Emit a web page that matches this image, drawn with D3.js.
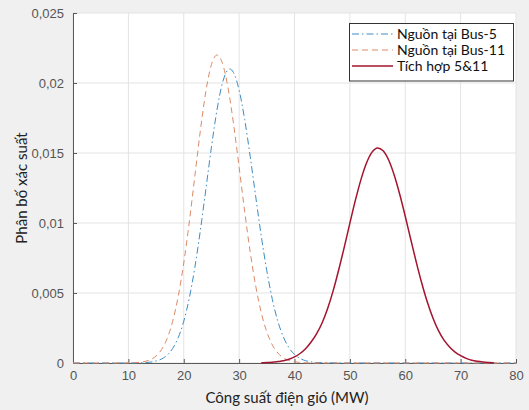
<!DOCTYPE html>
<html><head><meta charset="utf-8">
<script src="https://cdn.jsdelivr.net/npm/d3@7"></script>
<style>body{margin:0;background:#f0f0f0;} svg{display:block}</style>
</head><body><svg id="c" width="529" height="410"></svg>
<script>
// ---- data ----
const xTicks = [0, 10, 20, 30, 40, 50, 60, 70, 80];
const xTickLabels = ["0", "10", "20", "30", "40", "50", "60", "70", "80"];
const yTicks = [0, 0.005, 0.01, 0.015, 0.02, 0.025];
const yTickLabels = ["0", "0,005", "0,01", "0,015", "0,02", "0,025"];
const seriesNames = ["Nguồn tại Bus-5", "Nguồn tại Bus-11", "Tích hợp 5&11"];

const bus5X = [0, 5, 10, 12, 13, 14, 15, 16, 17, 18, 19, 20, 21, 22, 23, 24, 25, 26, 27, 28, 28.3, 29, 30, 31, 32, 33, 34, 35, 36, 37, 38, 39, 40, 41, 42, 43, 44, 45, 50, 55, 60, 65, 70, 75, 80];
const bus5Y = [0, 0, 0, 0.000005, 0.00002, 0.000064, 0.00014, 0.000288, 0.000563, 0.00104, 0.00181, 0.00298, 0.00464, 0.00682, 0.00947, 0.01243, 0.01542, 0.01807, 0.02002, 0.02095, 0.0210, 0.02074, 0.01949, 0.0174, 0.01475, 0.01187, 0.00907, 0.00659, 0.00454, 0.00297, 0.00185, 0.00109, 0.000613, 0.000326, 0.000165, 0.000079, 0.000036, 0.000016, 0, 0, 0, 0, 0, 0, 0];

const bus11X = [0, 5, 10, 11, 12, 13, 14, 15, 16, 17, 18, 19, 20, 21, 22, 23, 24, 25, 26, 27, 28, 29, 30, 31, 32, 33, 34, 35, 36, 37, 38, 39, 40, 41, 42, 45, 50, 55, 60, 65, 70, 75, 80];
const bus11Y = [0, 0, 0.000007, 0.000019, 0.000048, 0.000112, 0.000244, 0.000502, 0.000966, 0.00175, 0.00298, 0.00476, 0.00714, 0.01007, 0.01334, 0.0166, 0.01942, 0.02132, 0.0220, 0.02139, 0.01964, 0.01705, 0.01398, 0.01083, 0.00793, 0.00549, 0.00359, 0.00222, 0.00129, 0.000712, 0.000371, 0.000183, 0.000085, 0.000037, 0.000016, 0, 0, 0, 0, 0, 0, 0, 0];

const comboX = [34, 35, 36, 37, 38, 39, 40, 41, 42, 43, 44, 45, 46, 47, 48, 49, 50, 51, 52, 53, 54, 55, 56, 57, 58, 59, 60, 61, 62, 63, 64, 65, 66, 67, 68, 69, 70, 71, 72, 73, 74, 75, 76];
const comboY = [0.00001, 0.00003, 0.00005, 0.0001, 0.00016, 0.00027, 0.00044, 0.00068, 0.00102, 0.0015, 0.0021, 0.00288, 0.00391, 0.00519, 0.00668, 0.0083, 0.00999, 0.01163, 0.0131, 0.01428, 0.01506, 0.01536, 0.01516, 0.0145, 0.01343, 0.01205, 0.01048, 0.00882, 0.00719, 0.00568, 0.00434, 0.00322, 0.00231, 0.00163, 0.00115, 0.00078, 0.00052, 0.00033, 0.0002, 0.00012, 0.00007, 0.00004, 0.00002];

// ---- drawing ----
const W = 529, H = 410;
const m = {left: 73, right: 13, top: 13, bottom: 47};
const svg = d3.select("#c");
const x = d3.scaleLinear().domain([0, 80]).range([m.left, W - m.right]);
const y = d3.scaleLinear().domain([0, 0.025]).range([H - m.bottom, m.top]);

svg.append("rect").attr("width", W).attr("height", H).attr("fill", "#f0f0f0");
svg.append("rect").attr("x", x(0)).attr("y", y(0.025))
  .attr("width", x(80) - x(0)).attr("height", y(0) - y(0.025)).attr("fill", "#ffffff");

// grid
const grid = svg.append("g").attr("stroke", "#e3e3e3").attr("stroke-width", 1);
xTicks.forEach(t => grid.append("line").attr("x1", x(t)).attr("x2", x(t)).attr("y1", y(0)).attr("y2", y(0.025)));
yTicks.forEach(t => grid.append("line").attr("x1", x(0)).attr("x2", x(80)).attr("y1", y(t)).attr("y2", y(t)));

const axisColor = "#5a5a5a";
const tickFont = "'Liberation Sans', Arial, sans-serif";

// x axis
const gx = svg.append("g").attr("transform", `translate(0,${y(0)})`)
  .call(d3.axisBottom(x).tickValues(xTicks).tickFormat((d, i) => xTickLabels[i]).tickSizeInner(-4).tickSizeOuter(0).tickPadding(8));
gx.select(".domain").attr("stroke", axisColor);
gx.selectAll(".tick line").attr("stroke", axisColor);
gx.selectAll(".tick text").attr("fill", "#555").style("font-family", tickFont).style("font-size", "13px");

// y axis
const gy = svg.append("g").attr("transform", `translate(${x(0)},0)`)
  .call(d3.axisLeft(y).tickValues(yTicks).tickFormat((d, i) => yTickLabels[i]).tickSizeInner(-4).tickSizeOuter(0).tickPadding(9));
gy.select(".domain").attr("stroke", axisColor);
gy.selectAll(".tick line").attr("stroke", axisColor);
gy.selectAll(".tick text").attr("fill", "#555").style("font-family", tickFont).style("font-size", "13px");

// axis titles
const labelFont = "Lato, 'Open Sans', sans-serif";
svg.append("text").attr("x", 287).attr("y", 403).attr("text-anchor", "middle")
  .style("font-family", labelFont).style("font-size", "15px").attr("fill", "#222").text("Công suất điện gió (MW)");
svg.append("text").attr("transform", `translate(27,${(y(0) + y(0.025)) / 2}) rotate(-90)`).attr("text-anchor", "middle")
  .style("font-family", labelFont).style("font-size", "15px").attr("fill", "#222").text("Phân bố xác suất");

// lines
const line = d3.line().curve(d3.curveMonotoneX).x(d => x(d[0])).y(d => y(d[1]));
const styles = [
  {xs: bus5X, ys: bus5Y, color: "#3d8cc4", width: 1, dash: "7,3,1.5,3"},
  {xs: bus11X, ys: bus11Y, color: "#dc8a66", width: 1, dash: "6,4"},
  {xs: comboX, ys: comboY, color: "#a2142f", width: 1.5, dash: null}
];
const plot = svg.append("g");
styles.forEach(s => {
  const pts = s.xs.map((v, i) => [v, s.ys[i]]);
  const p = plot.append("path").datum(pts).attr("d", line).attr("fill", "none")
    .attr("stroke", s.color).attr("stroke-width", s.width);
  if (s.dash) p.attr("stroke-dasharray", s.dash);
});

// legend
const lg = svg.append("g");
lg.append("rect").attr("x", 349.5).attr("y", 23.5).attr("width", 164).attr("height", 57.5)
  .attr("fill", "#fff").attr("stroke", "#333").attr("stroke-width", 1);
const rowsY = [34, 50, 66];
styles.forEach((s, i) => {
  const l = lg.append("line").attr("x1", 352).attr("x2", 393).attr("y1", rowsY[i]).attr("y2", rowsY[i])
    .attr("stroke", s.color).attr("stroke-width", s.width);
  if (s.dash) l.attr("stroke-dasharray", s.dash);
  lg.append("text").attr("x", 397).attr("y", rowsY[i]).attr("dy", "0.35em")
    .style("font-family", labelFont).style("font-size", "14px").attr("fill", "#111").text(seriesNames[i]);
});
</script></body></html>
